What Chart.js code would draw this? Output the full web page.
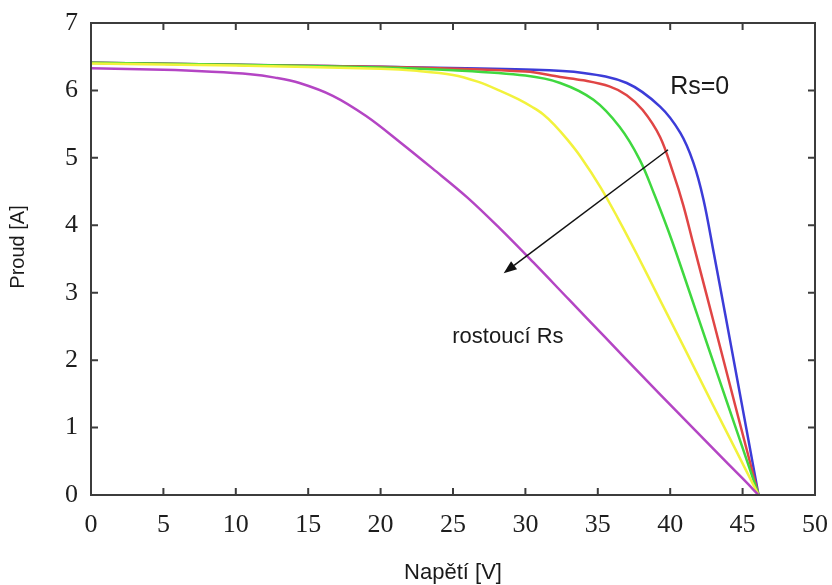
<!DOCTYPE html>
<html>
<head>
<meta charset="utf-8">
<script src="https://cdn.jsdelivr.net/npm/chart.js@4.4.1/dist/chart.umd.min.js"></script>
<style>
  html, body { margin: 0; padding: 0; background: #fff; }
  #wrap { width: 832px; height: 585px; }
</style>
</head>
<body>
<div id="wrap"><canvas id="ivChart" width="832" height="585"></canvas></div>
<script>
// I-V curves for growing series resistance Rs
const blueV = [0, 10, 20, 30, 34, 37, 39.3, 40.7, 41.6, 42.3, 43, 43.8, 44.6, 45.4, 46.1];
const blueI = [6.41, 6.38, 6.35, 6.31, 6.26, 6.11, 5.76, 5.37, 4.93, 4.38, 3.6, 2.68, 1.75, 0.82, 0];

const redV = [0, 10, 20, 30, 32.4, 34, 35.8, 37, 38.1, 39.3, 40.2, 40.9, 41.6, 42.5, 43.5, 44.5, 45.3, 46.1];
const redI = [6.41, 6.38, 6.35, 6.28, 6.2, 6.15, 6.06, 5.93, 5.71, 5.31, 4.78, 4.3, 3.72, 2.98, 2.15, 1.32, 0.66, 0];

const greenV = [0, 10, 20, 25, 30, 32.4, 34.7, 36.5, 37.9, 38.9, 39.8, 40.4, 41.4, 42.6, 43.9, 45, 46.1];
const greenI = [6.41, 6.38, 6.34, 6.3, 6.22, 6.11, 5.86, 5.46, 4.97, 4.46, 3.96, 3.6, 2.97, 2.21, 1.39, 0.7, 0];

const yellowV = [0, 10, 20, 22.5, 25, 26.7, 28.3, 29.5, 30.5, 31.2, 32, 32.9, 33.8, 35.2, 36.4, 37.7, 39.3, 41, 42.8, 44.5, 46.1];
const yellowI = [6.4, 6.37, 6.32, 6.29, 6.23, 6.13, 5.99, 5.87, 5.75, 5.65, 5.49, 5.27, 5.02, 4.56, 4.1, 3.57, 2.89, 2.17, 1.4, 0.68, 0];

const magentaV = [0, 5, 8, 11, 12.7, 14.4, 16.7, 19, 21.3, 23.6, 26, 28.2, 30.5, 33, 35.5, 38, 40.5, 43, 45, 46.1];
const magentaI = [6.33, 6.305, 6.28, 6.24, 6.19, 6.11, 5.92, 5.62, 5.24, 4.84, 4.41, 3.96, 3.46, 2.9, 2.34, 1.78, 1.23, 0.68, 0.245, 0];

const xTicks = [0, 5, 10, 15, 20, 25, 30, 35, 40, 45, 50];
const yTicks = [0, 1, 2, 3, 4, 5, 6, 7];

// annotation anchors in data units (V, A)
const arrowFrom = [39.85, 5.12];
const arrowTo = [28.5, 3.29];
const labelRs0 = { text: "Rs=0", at: [40.0, 6.05] };
const labelGrow = { text: "rostoucí Rs", at: [24.95, 2.34] };

function toPoints(v, i) {
  return v.map((x, k) => ({ x: x, y: i[k] }));
}

function curve(v, i, color) {
  return {
    data: toPoints(v, i),
    borderColor: color,
    borderWidth: 2.5,
    pointRadius: 0,
    fill: false,
    tension: 0.35,
  };
}

const frameAndNotes = {
  id: "frameAndNotes",
  afterDraw(chart) {
    const { ctx, chartArea: a, scales: { x, y } } = chart;
    ctx.save();

    // box around the plot with inward ticks on every side
    ctx.strokeStyle = "#3c3c3c";
    ctx.lineWidth = 2;
    ctx.strokeRect(a.left, a.top, a.right - a.left, a.bottom - a.top);
    ctx.beginPath();
    x.ticks.forEach((t) => {
      const px = x.getPixelForValue(t.value);
      ctx.moveTo(px, a.bottom);
      ctx.lineTo(px, a.bottom - 7);
      ctx.moveTo(px, a.top);
      ctx.lineTo(px, a.top + 7);
    });
    y.ticks.forEach((t) => {
      const py = y.getPixelForValue(t.value);
      ctx.moveTo(a.left, py);
      ctx.lineTo(a.left + 7, py);
      ctx.moveTo(a.right, py);
      ctx.lineTo(a.right - 7, py);
    });
    ctx.stroke();

    // arrow
    const x1 = x.getPixelForValue(arrowFrom[0]);
    const y1 = y.getPixelForValue(arrowFrom[1]);
    const x2 = x.getPixelForValue(arrowTo[0]);
    const y2 = y.getPixelForValue(arrowTo[1]);
    const ang = Math.atan2(y2 - y1, x2 - x1);
    const headLen = 13, headW = 5;
    const bx = x2 - headLen * Math.cos(ang);
    const by = y2 - headLen * Math.sin(ang);
    ctx.strokeStyle = "#111";
    ctx.lineWidth = 1.5;
    ctx.beginPath();
    ctx.moveTo(x1, y1);
    ctx.lineTo(bx, by);
    ctx.stroke();
    ctx.fillStyle = "#111";
    ctx.beginPath();
    ctx.moveTo(x2, y2);
    ctx.lineTo(bx + headW * Math.sin(ang), by - headW * Math.cos(ang));
    ctx.lineTo(bx - headW * Math.sin(ang), by + headW * Math.cos(ang));
    ctx.closePath();
    ctx.fill();

    // text notes
    ctx.fillStyle = "#1a1a1a";
    ctx.textAlign = "left";
    ctx.textBaseline = "middle";
    ctx.font = "25px 'Liberation Sans', Arial, sans-serif";
    ctx.fillText(labelRs0.text, x.getPixelForValue(labelRs0.at[0]), y.getPixelForValue(labelRs0.at[1]));
    ctx.font = "22px 'Liberation Sans', Arial, sans-serif";
    ctx.fillText(labelGrow.text, x.getPixelForValue(labelGrow.at[0]), y.getPixelForValue(labelGrow.at[1]));

    // axis titles
    ctx.textAlign = "center";
    ctx.font = "22px 'Liberation Sans', Arial, sans-serif";
    ctx.fillText("Napětí [V]", (a.left + a.right) / 2, a.bottom + 78);
    ctx.save();
    ctx.translate(a.left - 73, (a.top + a.bottom) / 2 - 12);
    ctx.rotate(-Math.PI / 2);
    ctx.font = "20px 'Liberation Sans', Arial, sans-serif";
    ctx.fillText("Proud [A]", 0, 0);
    ctx.restore();

    ctx.restore();
  },
};

const tickFont = { family: "'Liberation Serif', 'Times New Roman', serif", size: 26 };

new Chart(document.getElementById("ivChart"), {
  type: "line",
  data: {
    datasets: [
      curve(magentaV, magentaI, "#b445c4"),
      curve(yellowV, yellowI, "#f2f23c"),
      curve(greenV, greenI, "#3fd83f"),
      curve(redV, redI, "#e04545"),
      curve(blueV, blueI, "#3c3cd8"),
    ],
  },
  options: {
    responsive: false,
    animation: false,
    layout: { padding: { top: 23, right: 17, left: 0, bottom: 0 } },
    plugins: { legend: { display: false }, tooltip: { enabled: false } },
    scales: {
      x: {
        type: "linear",
        min: 0,
        max: 50,
        afterBuildTicks: (s) => { s.ticks = xTicks.map((v) => ({ value: v })); },
        afterFit: (s) => {
          s.height = 90;
          s.paddingLeft = 0;
          s.paddingRight = 0;
        },
        grid: { display: false, drawTicks: false },
        border: { display: false },
        ticks: { font: tickFont, color: "#1e1e1e", padding: 15, maxRotation: 0 },
      },
      y: {
        min: 0,
        max: 7,
        afterBuildTicks: (s) => { s.ticks = yTicks.map((v) => ({ value: v })); },
        afterFit: (s) => {
          s.width = 91;
          s.paddingTop = 0;
          s.paddingBottom = 0;
        },
        grid: { display: false, drawTicks: false },
        border: { display: false },
        ticks: { font: tickFont, color: "#1e1e1e", padding: 13 },
      },
    },
  },
  plugins: [frameAndNotes],
});
</script>
</body>
</html>
